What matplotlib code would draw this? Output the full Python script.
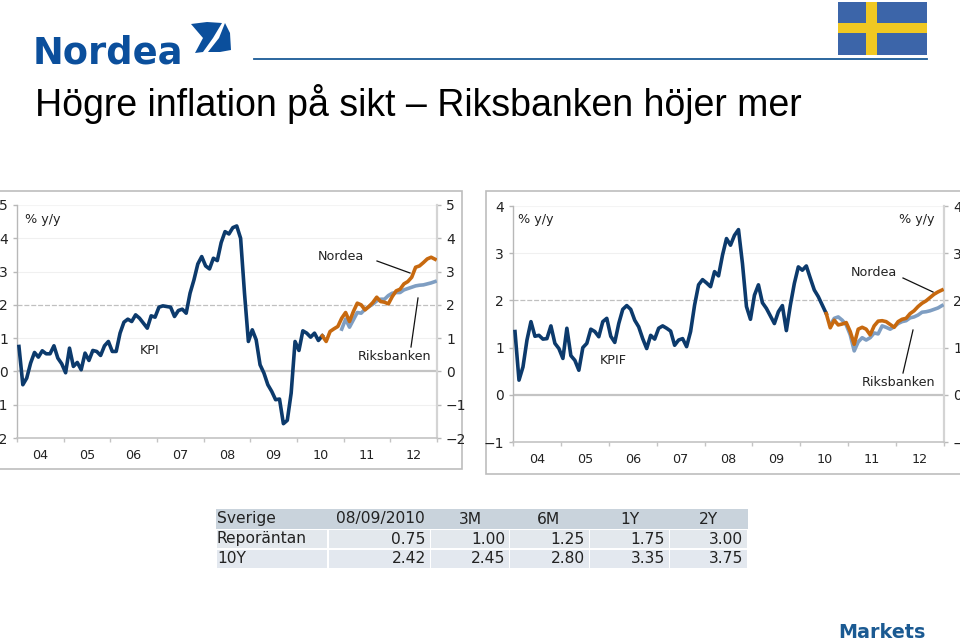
import numpy as np
import matplotlib
matplotlib.use('Agg')
import matplotlib.pyplot as plt
from matplotlib.patches import Polygon, Rectangle

W, H = 960, 643
plt.rcParams['font.family'] = 'DejaVu Sans'

year_labels = ['04', '05', '06', '07', '08', '09', '10', '11', '12']

# monthly values, jan 2004 - dec 2012
kpi = [0.75, -0.4, -0.2, 0.25, 0.57, 0.43, 0.62, 0.53, 0.53, 0.77, 0.4, 0.23,
       -0.04, 0.7, 0.15, 0.27, 0.05, 0.55, 0.33, 0.63, 0.6, 0.48, 0.77, 0.9,
       0.6, 0.6, 1.15, 1.48, 1.57, 1.5, 1.7, 1.6, 1.45, 1.3, 1.67, 1.63,
       1.93, 1.97, 1.95, 1.93, 1.65, 1.83, 1.87, 1.75, 2.35, 2.75, 3.23, 3.45,
       3.17, 3.08, 3.4, 3.33, 3.87, 4.2, 4.13, 4.32, 4.37, 4.0, 2.35, 0.9,
       1.25, 0.95, 0.2, -0.05, -0.4, -0.6, -0.85, -0.83, -1.57, -1.47, -0.65, 0.9,
       0.63, 1.22, 1.15, 1.03, 1.15, 0.93, 1.07]
kpi_nordea = [1.07, 0.9, 1.2, 1.28, 1.35, 1.6, 1.77, 1.5, 1.8, 2.05, 2.0, 1.85,
              1.95, 2.07, 2.23, 2.1, 2.08, 2.03, 2.25, 2.42, 2.47, 2.63, 2.7,
              2.83, 3.13, 3.17, 3.27, 3.38, 3.43, 3.37]
kpi_riks = [1.27, 1.57, 1.33, 1.55, 1.77, 1.75, 1.87, 1.95, 2.02, 2.12, 2.17,
            2.17, 2.28, 2.35, 2.37, 2.37, 2.45, 2.49, 2.53, 2.57, 2.59, 2.6,
            2.63, 2.66, 2.7]

kpif = [1.34, 0.31, 0.59, 1.16, 1.55, 1.24, 1.26, 1.18, 1.19, 1.46, 1.09, 0.98,
        0.77, 1.41, 0.83, 0.73, 0.52, 1.0, 1.09, 1.39, 1.34, 1.23, 1.55, 1.62,
        1.24, 1.11, 1.51, 1.81, 1.89, 1.81, 1.58, 1.44, 1.19, 0.98, 1.26, 1.18,
        1.41, 1.46, 1.41, 1.35, 1.05, 1.16, 1.19, 1.02, 1.34, 1.9, 2.33, 2.44,
        2.37, 2.29, 2.61, 2.52, 2.96, 3.31, 3.17, 3.38, 3.5, 2.78, 1.87, 1.6,
        2.11, 2.33, 1.95, 1.83, 1.67, 1.51, 1.76, 1.89, 1.36, 1.9, 2.36, 2.71,
        2.64, 2.73, 2.47, 2.22, 2.08, 1.9, 1.72]
kpif_nordea = [1.72, 1.42, 1.58, 1.48, 1.5, 1.53, 1.34, 1.07, 1.39, 1.43, 1.39,
               1.27, 1.46, 1.56, 1.57, 1.55, 1.49, 1.43, 1.55, 1.6, 1.62, 1.72,
               1.78, 1.87, 1.94, 1.99, 2.06, 2.13, 2.18, 2.22]
kpif_riks = [1.48, 1.62, 1.65, 1.58, 1.48, 1.27, 0.93, 1.12, 1.21, 1.16, 1.21,
             1.31, 1.29, 1.46, 1.43, 1.39, 1.44, 1.51, 1.55, 1.57, 1.63, 1.65,
             1.69, 1.75, 1.76, 1.78, 1.81, 1.84, 1.89]

table_header = ['Sverige', '08/09/2010', '3M', '6M', '1Y', '2Y']
table_repo = ['Reporäntan', '0.75', '1.00', '1.25', '1.75', '3.00']
table_10y = ['10Y', '2.42', '2.45', '2.80', '3.35', '3.75']

NAVY = '#0c3a6c'
ORANGE = '#c7690f'
RIKS = '#7f9ec2'
TXT = '#222222'
LOGO = '#0b4f9c'

fig = plt.figure(figsize=(W/100, H/100), dpi=100)

# pixel overlay for the slide furniture
bg = fig.add_axes([0, 0, 1, 1], zorder=0)
bg.set_xlim(0, W)
bg.set_ylim(H, 0)
bg.axis('off')


def chart(box, ymin, ymax, series):
    x0, x1, ytop, ybot = box
    ax = fig.add_axes([x0/W, 1 - ybot/H, (x1-x0)/W, (ybot-ytop)/H], zorder=2)
    ax.patch.set_alpha(0)
    ax.set_xlim(0, 108)
    ax.set_ylim(ymin, ymax)
    for v in range(ymin, ymax + 1):
        if v == 0:
            ax.axhline(v, c='#c4c4c4', lw=1.6, zorder=1)
        elif v == 2:
            ax.axhline(v, c='#c0c0c0', lw=0.9, ls=(0, (4, 1.5)), zorder=1)
        elif v not in (ymin, ymax):
            ax.axhline(v, c='#f0f0f0', lw=0.8, zorder=1)
    ax.axhline(ymax, c='#f4f4f4', lw=0.8, zorder=1)
    for start, vals, col in series:
        xs = start + np.arange(len(vals)) + 0.5
        ax.plot(xs, vals, c=col, lw=2.6, solid_joinstyle='round', zorder=3)
    ax.set_yticks(range(ymin, ymax + 1))
    ax.set_xticks(np.arange(0, 109, 12))
    ax.set_xticklabels([])
    ax.set_xticks(np.arange(6, 108, 12), labels=year_labels, minor=True)
    ax.tick_params(axis='x', which='major', length=3, color='#c4c4c4', width=1)
    ax.tick_params(axis='x', which='minor', length=0, pad=8, labelsize=9.2, labelcolor=TXT)
    ax.tick_params(axis='y', length=3, color='#b8b8b8', width=1, left=True, right=True,
                   labelleft=True, labelright=True, labelsize=10, labelcolor=TXT, pad=3.5)
    for s in ['top']:
        ax.spines[s].set_visible(False)
    ax.spines['left'].set_color('#b8b8b8')
    ax.spines['left'].set_linewidth(1)
    ax.spines['right'].set_color('#d4d4d4')
    ax.spines['right'].set_linewidth(1.6)
    ax.spines['bottom'].set_color('#c4c4c4')
    ax.spines['bottom'].set_linewidth(1.2)
    return ax


chart((17, 437, 205, 438), -2, 5,
      [(0, kpi, NAVY), (83, kpi_riks, RIKS), (78, kpi_nordea, ORANGE)])
chart((513, 944, 206, 442), -1, 4,
      [(0, kpif, NAVY), (79, kpif_riks, RIKS), (78, kpif_nordea, ORANGE)])

# frames round the two charts
bg.add_patch(Rectangle((-5, 191), 467, 278, fc='white', ec='#bdbdbd', lw=1.2))
bg.add_patch(Rectangle((486, 191), 490, 283, fc='white', ec='#bdbdbd', lw=1.2))

# labels and leader lines
labels = [('% y/y', 43, 219), ('KPI', 150, 350), ('Nordea', 341, 257), ('Riksbanken', 395, 357),
          ('% y/y', 536, 219), ('% y/y', 917, 219), ('KPIF', 613, 361),
          ('Nordea', 874, 273), ('Riksbanken', 899, 382)]
for s, x, y in labels:
    bg.text(x, y, s, ha='center', va='center', fontsize=9.2, color=TXT, zorder=5)
leaders = [((377, 261), (410, 273)), ((418, 298), (411, 347)),
           ((903, 278), (933, 292)), ((913, 330), (903, 373))]
over = fig.add_axes([0, 0, 1, 1], zorder=4)
over.set_xlim(0, W)
over.set_ylim(H, 0)
over.axis('off')
for (xa, ya), (xb, yb) in leaders:
    over.plot([xa, xb], [ya, yb], c='#111111', lw=0.9)

# header: logo, flag, rule, title
bg.text(33, 64, 'Nordea', fontsize=26.5, fontweight='bold', color=LOGO, ha='left', va='baseline')
bg.add_patch(Polygon([(191, 24), (207, 22), (222, 23), (213, 38), (203, 52), (195, 53), (203, 38)],
                     fc=LOGO, ec='none'))
bg.add_patch(Polygon([(225, 23), (230, 33), (231, 50), (220, 52), (208, 52), (219, 38)],
                     fc=LOGO, ec='none'))
bg.plot([254, 927], [59, 59], c='#1a5a96', lw=1.3)
bg.add_patch(Rectangle((838, 2), 89, 53, fc='#3c65a9', ec='none'))
bg.add_patch(Rectangle((866, 2), 11, 53, fc='#f0c822', ec='none'))
bg.add_patch(Rectangle((838, 23), 89, 10, fc='#f0c822', ec='none'))
bg.text(35, 116, 'Högre inflation på sikt – Riksbanken höjer mer', family='Liberation Sans',
        fontsize=27, color='black', ha='left', va='baseline')

# table
col_edges = [(217, 327), (329, 430), (431, 509), (510, 589), (590, 669), (670, 747)]
bg.add_patch(Rectangle((216, 509), 532, 19.5, fc='#c9d3dc', ec='none'))
for (a, b) in col_edges:
    bg.add_patch(Rectangle((a, 530), b-a, 18, fc='#e3e8ed', ec='none'))
    bg.add_patch(Rectangle((a, 550), b-a, 17.5, fc='#e3e8ef', ec='none'))
hdr_cx = [None, 380, 470, 549, 630, 708]
for i, s in enumerate(table_header):
    if i == 0:
        bg.text(217, 519, s, fontsize=11.2, color=TXT, ha='left', va='center')
    else:
        bg.text(hdr_cx[i], 519, s, fontsize=11.2, color=TXT, ha='center', va='center')
for row, y in ((table_repo, 539), (table_10y, 558.5)):
    for i, s in enumerate(row):
        if i == 0:
            bg.text(217, y, s, fontsize=11.2, color=TXT, ha='left', va='center')
        else:
            bg.text(col_edges[i][1] - 4, y, s, fontsize=11.2, color=TXT, ha='right', va='center')

bg.text(838, 638, 'Markets', fontsize=13.8, fontweight='bold', color='#1b5a92', ha='left', va='baseline')

fig.savefig('out.png', dpi=100)
